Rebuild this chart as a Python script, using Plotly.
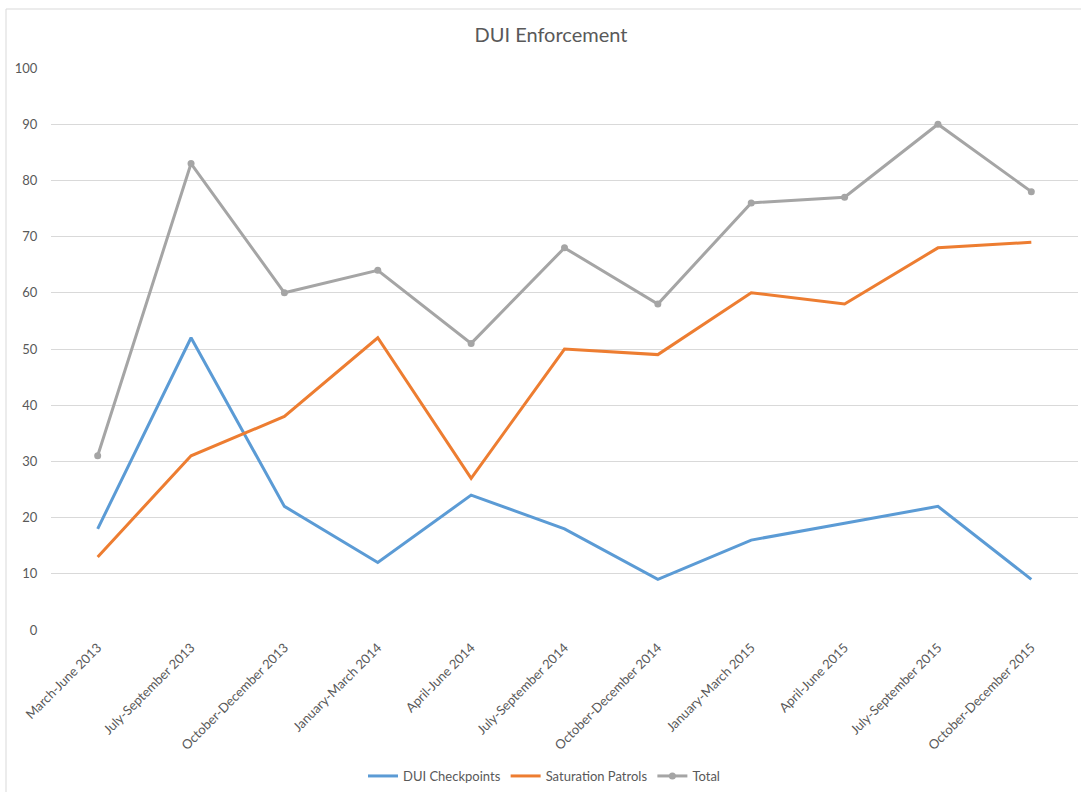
import plotly.graph_objects as go

categories = ["March-June 2013", "July-September 2013", "October-December 2013",
              "January-March 2014", "April-June 2014", "July-September 2014",
              "October-December 2014", "January-March 2015", "April-June 2015",
              "July-September 2015", "October-December 2015"]
checkpoints = [18, 52, 22, 12, 24, 18, 9, 16, 19, 22, 9]
saturation = [13, 31, 38, 52, 27, 50, 49, 60, 58, 68, 69]
total = [31, 83, 60, 64, 51, 68, 58, 76, 77, 90, 78]
y_ticks = [0, 10, 20, 30, 40, 50, 60, 70, 80, 90, 100]

FONT = "Lato"
TXT = "#595959"

fig = go.Figure()
fig.add_trace(go.Scatter(x=categories, y=checkpoints, mode="lines", name="DUI Checkpoints",
                         line=dict(color="#5B9BD5", width=3)))
fig.add_trace(go.Scatter(x=categories, y=saturation, mode="lines", name="Saturation Patrols",
                         line=dict(color="#ED7D31", width=3)))
fig.add_trace(go.Scatter(x=categories, y=total, mode="lines+markers", name="Total",
                         line=dict(color="#A5A5A5", width=3),
                         marker=dict(color="#A5A5A5", size=7)))

fig.update_layout(
    width=1081, height=792,
    margin=dict(l=51, r=3, t=68, b=162),
    paper_bgcolor="white", plot_bgcolor="white",
    font=dict(family=FONT, size=13, color=TXT),
    title=dict(text="DUI Enforcement", x=551 / 1081, xanchor="center", y=1 - 35 / 792,
               yanchor="middle", yref="container", font=dict(family=FONT, size=20, color=TXT)),
    showlegend=True,
    legend=dict(orientation="h", x=(544 - 51) / 1027, xanchor="center", y=16 / 792, yref="container",
                yanchor="middle", font=dict(family=FONT, size=13, color=TXT),
                itemwidth=30, tracegroupgap=0),
    xaxis=dict(type="category", range=[-0.5, 10.5], showgrid=False, zeroline=False,
               showline=False, tickangle=-45, ticks="outside", ticklen=4,
               tickcolor="rgba(0,0,0,0)", tickfont=dict(family=FONT, size=13, color=TXT)),
    yaxis=dict(range=[0, 100], tickvals=y_ticks, showgrid=True, gridcolor="#D9D9D9",
               gridwidth=1, zeroline=False, showline=False, ticks="outside", ticklen=10,
               tickcolor="rgba(0,0,0,0)", tickfont=dict(family=FONT, size=13, color=TXT)),
    shapes=[
        dict(type="line", xref="paper", yref="paper", x0=(6 - 51) / 1027, x1=(1081 - 51) / 1027,
             y0=(630 - 9) / 562, y1=(630 - 9) / 562, line=dict(color="#D9D9D9", width=1)),
        dict(type="line", xref="paper", yref="paper", x0=(6 - 51) / 1027, x1=(6 - 51) / 1027,
             y0=(630 - 9) / 562, y1=(630 - 792) / 562, line=dict(color="#D9D9D9", width=1)),
    ],
)

fig.write_html("out.html")
